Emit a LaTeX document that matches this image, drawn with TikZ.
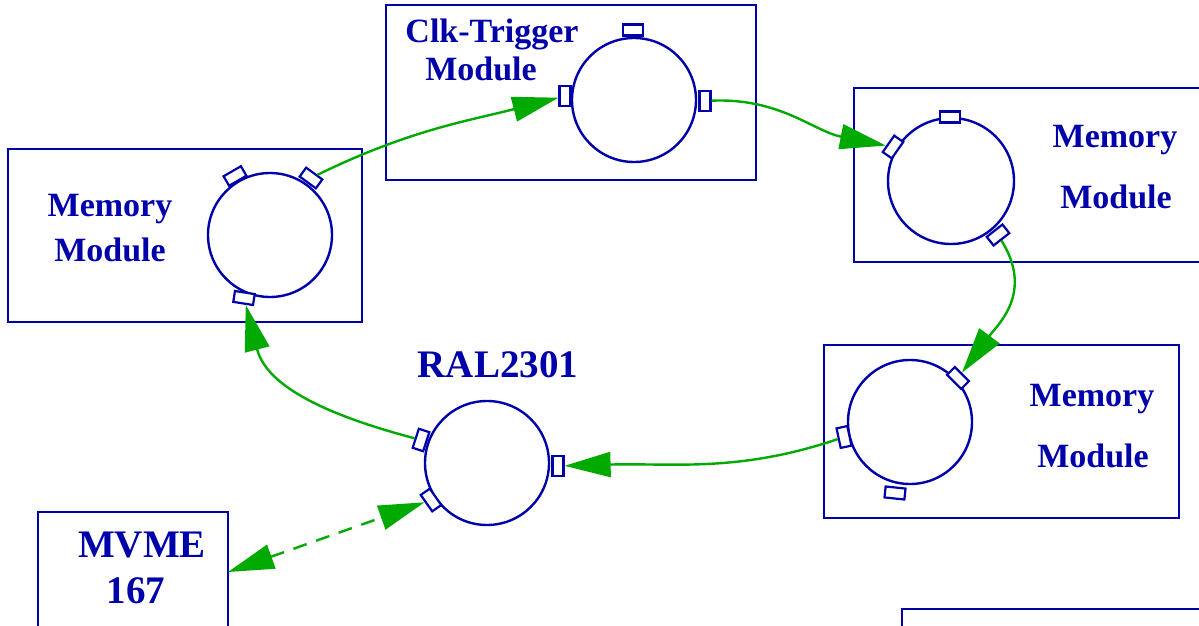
\documentclass[tikz,border=0pt]{standalone}
\usepackage{fontspec}
\setmainfont{Liberation Serif}
\usetikzlibrary{arrows.meta}
\definecolor{dblue}{RGB}{0,0,170}
\definecolor{lgreen}{RGB}{0,170,0}
\begin{document}
\begin{tikzpicture}[x=1pt,y=1pt,
  box/.style={draw=dblue, line width=2.8pt, fill=none},
  ring/.style={circle, draw=dblue, line width=2.4pt, minimum size=124pt, inner sep=0pt},
  port/.style={rectangle, draw=dblue, line width=2.2pt, fill=white, minimum width=20pt, minimum height=11pt, inner sep=0pt},
  lbl/.style={text=dblue, font=\fontsize{34}{40}\selectfont\bfseries, anchor=base, inner sep=0pt},
  biglbl/.style={text=dblue, font=\fontsize{39}{46}\selectfont\bfseries, anchor=base, inner sep=0pt},
  link/.style={draw=lgreen, line width=2.4pt, -{Triangle[length=46pt,width=25pt]}},
  dlink/.style={draw=lgreen, line width=2.4pt, dash pattern=on 14pt off 10pt, {Triangle[length=46pt,width=25pt]}-{Triangle[length=46pt,width=25pt]}}
]
\useasboundingbox (0,0) rectangle (1199,625);
% boxes
\draw[box] (8,303) rectangle (362,476);
\draw[box] (386,445) rectangle (756,620);
\draw[box] (854,363) rectangle (1215,537);
\draw[box] (824,107) rectangle (1179,280);
\draw[box] (38,-20) rectangle (228,113);
\draw[box] (902,-20) rectangle (1215,16);
% labels
\node[lbl] (m1a) at (110,409) {Memory};
\node[lbl] (m1b) at (110,363) {Module};
\node[lbl] (ck1) at (492,582) {Clk-Trigger};
\node[lbl] (ck2) at (481,544) {Module};
\node[lbl] (m3a) at (1115,477) {Memory};
\node[lbl] (m3b) at (1116,416) {Module};
\node[lbl] (m4a) at (1092,219) {Memory};
\node[lbl] (m4b) at (1093,158) {Module};
\node[biglbl] (ral) at (498,248) {RAL2301};
\node[biglbl] (mv1) at (142,68) {MVME};
\node[biglbl] (mv2) at (136,22) {167};
% rings
\node[ring] (c1) at (270,390) {};
\node[ring] (c2) at (634,525) {};
\node[ring, minimum size=126pt] (c3) at (951,444) {};
\node[ring] (c4) at (910,203) {};
\node[ring] (c5) at (487,162) {};
% ports
\node[port, rotate=30]  (p1a) at (235,449) {};
\node[port, rotate=-36] (p1b) at (311,447) {};
\node[port, rotate=-9]  (p1c) at (244,327) {};
\node[port]             (p2a) at (633,595) {};
\node[port, rotate=90]  (p2b) at (565,529) {};
\node[port, rotate=90]  (p2c) at (705,524) {};
\node[port]             (p3a) at (950,508) {};
\node[port, rotate=55]  (p3b) at (893,478) {};
\node[port, rotate=38]  (p3c) at (998,390) {};
\node[port, rotate=-45] (p4a) at (958,247) {};
\node[port, rotate=102] (p4b) at (844,188) {};
\node[port, rotate=-6]  (p4c) at (895,132) {};
\node[port, rotate=72]  (p5a) at (421,185) {};
\node[port, rotate=90]  (p5b) at (558,159) {};
\node[port, rotate=-55] (p5c) at (431,125) {};
% MVME box anchor
\coordinate (mvr) at (228,53);
% connectors
\draw[link] (p1b) to[out=30,in=188] (p2b);
\draw[link] (p2c) to[out=-6,in=162] (p3b);
\draw[link] (p3c) to[out=-62,in=58,looseness=1.1] (p4a);
\draw[link] (p4b) to[out=193,in=-4] (p5b);
\draw[link] (p5a) to[out=158,in=-75] (p1c);
\draw[dlink] (mvr) -- (p5c);
\end{tikzpicture}
\end{document}
